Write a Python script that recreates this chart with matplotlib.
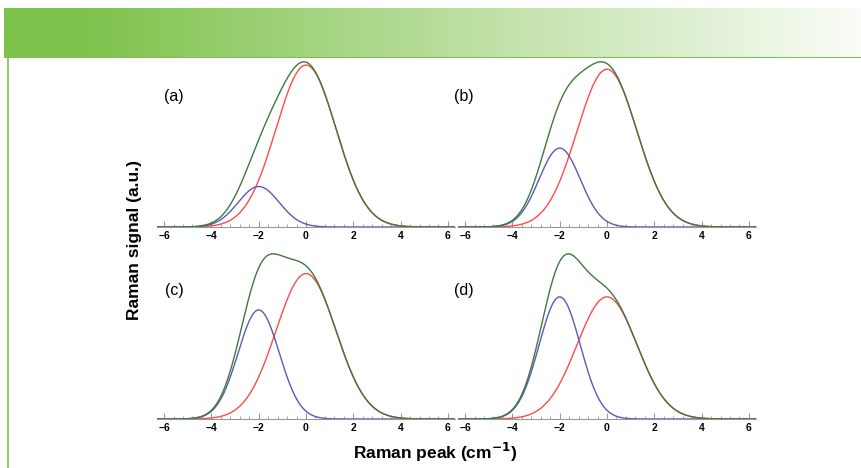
import numpy as np
import matplotlib.pyplot as plt
from matplotlib.lines import Line2D
from matplotlib.ticker import MultipleLocator

plt.rcParams['font.family'] = ['Liberation Sans', 'DejaVu Sans']

# peak parameters
panel_labels = ['(a)', '(b)', '(c)', '(d)']
blue_amp = [0.25, 0.5, 0.75, 1.0]
blue_center = -2.0
blue_width = 0.87
red_amp = 1.0
red_center = 0.0
red_width = 1.27
xticks = [-6, -4, -2, 0, 2, 4, 6]

c_red = '#ff4a4a'
c_blue = '#5a5ab8'
c_green = '#3d7a3d'
c_bar = (0x7d / 255, 0xc2 / 255, 0x4a / 255)

fig = plt.figure(figsize=(8.62, 4.68), dpi=100)

# green gradient banner
ban = fig.add_axes([4 / 862, 1 - 58 / 468, 858 / 862, 50 / 468])
t = np.linspace(0, 1, 400)
t = np.clip((t - 0.08) / 0.92, 0, 1)
grad = np.zeros((1, 400, 3))
white = np.array([0.98, 0.99, 0.97])
for i in range(3):
    grad[0, :, i] = c_bar[i] + (white[i] - c_bar[i]) * t
ban.imshow(grad, aspect='auto', extent=[0, 1, 0, 1])
ban.axhline(0.01, color=c_bar, lw=1.5)
ban.set_axis_off()

fig.add_artist(Line2D([8 / 862, 8 / 862], [0, 1 - 58 / 468], color=c_bar, lw=1.2))

x = np.linspace(-6.3, 6.3, 600)
pos = [[157, 227], [458, 227], [157, 419], [458, 419]]
lab_pos = [[174, 97], [464, 97], [174, 291], [464, 291]]

for k in range(4):
    left, base = pos[k]
    ax = fig.add_axes([left / 862, 1 - base / 468, 298 / 862, 166 / 468])
    red = red_amp * np.exp(-(x - red_center) ** 2 / (2 * red_width ** 2))
    blue = blue_amp[k] * np.exp(-(x - blue_center) ** 2 / (2 * blue_width ** 2))
    tot = red + blue
    ax.plot(x, red, color=c_red, lw=1)
    ax.plot(x, blue, color=c_blue, lw=1)
    ax.plot(x, tot, color=c_green, lw=1)
    ax.set_xlim(-6.3, 6.3)
    ax.set_ylim(0, tot.max() * 1.005)
    for s in ['left', 'right', 'top']:
        ax.spines[s].set_visible(False)
    ax.spines['bottom'].set_color('#999999')
    ax.set_yticks([])
    ax.set_xticks(xticks)
    ax.set_xticklabels(['\u22126', '\u22124', '\u22122', '0', '2', '4', '6'],
                       fontsize=7.5, fontweight='bold')
    ax.xaxis.set_minor_locator(MultipleLocator(0.4))
    ax.tick_params(axis='x', which='major', direction='in', length=4, color='#999999', pad=3)
    ax.tick_params(axis='x', which='minor', direction='in', length=2, color='#999999')
    ax.patch.set_visible(False)
    fig.text(lab_pos[k][0] / 862, 1 - lab_pos[k][1] / 468, panel_labels[k],
             fontsize=11.5, ha='center', va='center')

fig.text(134 / 862, 1 - 240 / 468, 'Raman signal (a.u.)', rotation=90,
         fontsize=12.5, fontweight='bold', ha='center', va='center')
fig.text(435 / 862, 1 - 452 / 468, 'Raman peak (cm$^{\\mathbf{-1}}$)',
         fontsize=12.5, fontweight='bold', ha='center', va='center')

fig.savefig('out.png', dpi=100)
